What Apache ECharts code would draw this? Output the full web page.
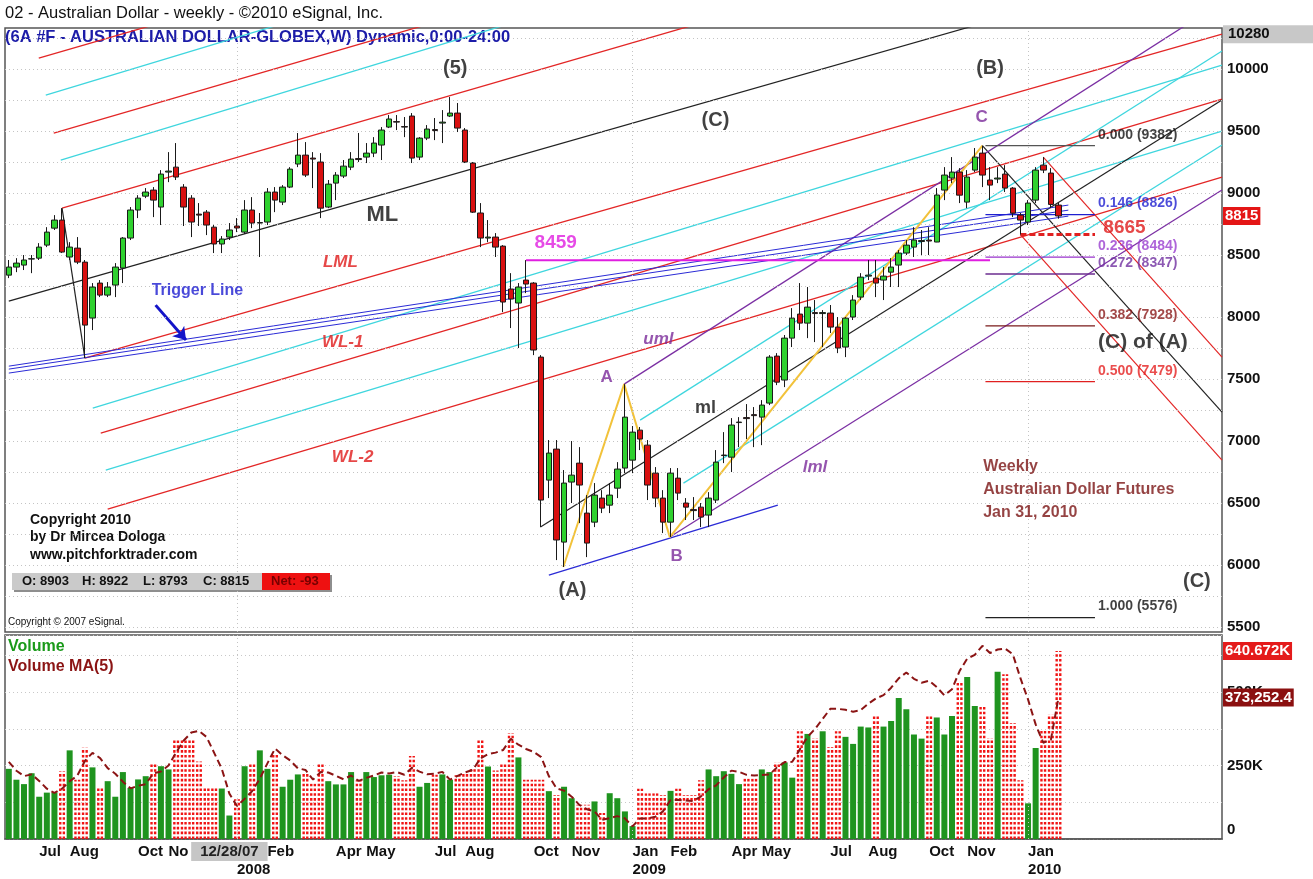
<!DOCTYPE html>
<html>
<head>
<meta charset="utf-8">
<title>02 - Australian Dollar - weekly</title>
<script src="https://cdn.jsdelivr.net/npm/echarts@6/dist/echarts.min.js"></script>
<style>
  html, body { margin: 0; padding: 0; background: #fff; }
  #chart { width: 1313px; height: 879px; }
</style>
</head>
<body>
<div id="chart"></div>
<script>
// weekly bars, dated by the Friday, first bar 2007-06-08
const firstFriday = Date.UTC(2007, 5, 8)
const slotCount = 160

// [open, high, low, close]
const candles = [
  [8338, 8460, 8314, 8403], [8403, 8475, 8362, 8435], [8419, 8500, 8379, 8460], [8468, 8500, 8354, 8470],
  [8475, 8596, 8460, 8564], [8580, 8725, 8564, 8685], [8717, 8822, 8702, 8782], [8782, 8878, 8516, 8524],
  [8484, 8604, 8460, 8564], [8556, 8645, 8427, 8443], [8443, 8460, 7669, 7935], [7992, 8274, 7895, 8242],
  [8274, 8298, 8161, 8177], [8177, 8282, 8161, 8242], [8258, 8435, 8161, 8403], [8395, 8645, 8274, 8637],
  [8637, 8887, 8621, 8863], [8863, 8983, 8798, 8959], [8975, 9040, 8959, 9008], [9024, 9048, 8806, 8943],
  [8887, 9185, 8742, 9153], [9169, 9330, 9088, 9177], [9209, 9403, 9105, 9129], [9048, 9072, 8734, 8887],
  [8959, 8983, 8645, 8766], [8830, 8919, 8734, 8822], [8846, 8863, 8661, 8742], [8725, 8742, 8516, 8589],
  [8589, 8653, 8516, 8629], [8645, 8758, 8621, 8702], [8734, 8798, 8685, 8718], [8685, 8943, 8670, 8863],
  [8863, 8967, 8717, 8758], [8758, 8839, 8484, 8762], [8766, 9040, 8742, 9008], [9008, 9048, 8846, 8943],
  [8927, 9064, 8903, 9048], [9048, 9209, 9040, 9193], [9234, 9484, 9209, 9306], [9306, 9411, 9129, 9145],
  [9282, 9330, 9040, 9274], [9250, 9322, 8798, 8878], [8887, 9105, 8878, 9072], [9080, 9169, 8943, 9145],
  [9137, 9266, 9121, 9217], [9209, 9330, 9185, 9274], [9278, 9484, 9250, 9270], [9290, 9403, 9242, 9322],
  [9322, 9451, 9290, 9403], [9387, 9532, 9266, 9508], [9532, 9629, 9524, 9597], [9576, 9629, 9508, 9572],
  [9536, 9613, 9451, 9532], [9621, 9645, 9242, 9282], [9290, 9451, 9266, 9443], [9443, 9548, 9427, 9516],
  [9512, 9605, 9427, 9504], [9564, 9669, 9403, 9572], [9621, 9774, 9613, 9645], [9645, 9726, 9492, 9524],
  [9508, 9524, 9242, 9250], [9242, 9250, 8839, 8846], [8839, 8919, 8564, 8637], [8637, 8782, 8604, 8645],
  [8645, 8677, 8484, 8564], [8572, 8580, 8040, 8121], [8226, 8354, 7911, 8145], [8113, 8274, 7750, 8242],
  [8298, 8459, 8193, 8266], [8274, 8282, 7693, 7734], [7677, 7693, 6306, 6524], [6685, 7008, 6540, 6903],
  [6935, 7008, 6040, 6202], [6185, 6766, 5984, 6661], [6669, 7000, 6500, 6725], [6822, 6951, 6338, 6645],
  [6419, 6564, 6064, 6177], [6346, 6661, 6306, 6564], [6540, 6604, 6419, 6459], [6483, 6661, 6419, 6564],
  [6620, 6830, 6540, 6774], [6782, 7459, 6741, 7193], [6846, 7121, 6741, 7072], [7088, 7113, 6927, 7016],
  [6967, 7008, 6524, 6645], [6741, 6790, 6467, 6540], [6540, 6604, 6258, 6346], [6346, 6782, 6226, 6741],
  [6701, 6782, 6524, 6580], [6500, 6540, 6363, 6467], [6447, 6548, 6363, 6439], [6467, 6500, 6306, 6387],
  [6403, 6588, 6306, 6540], [6524, 6927, 6500, 6830], [6883, 7072, 6822, 6887], [6870, 7185, 6750, 7129],
  [7149, 7193, 6951, 7153], [7189, 7298, 7016, 7181], [7213, 7274, 6951, 7205], [7193, 7330, 6967, 7290],
  [7306, 7693, 7290, 7677], [7685, 7709, 7451, 7475], [7492, 7855, 7435, 7830], [7830, 8072, 7758, 7991],
  [8024, 8274, 7895, 7951], [7951, 8242, 7830, 8080], [8036, 8137, 7798, 8028], [8028, 8056, 7758, 8036],
  [8032, 8097, 7871, 7919], [7919, 8000, 7709, 7750], [7758, 8000, 7677, 7991], [8000, 8177, 7976, 8137],
  [8161, 8354, 8137, 8322], [8330, 8460, 8298, 8338], [8314, 8460, 8161, 8274], [8298, 8403, 8137, 8330],
  [8362, 8475, 8242, 8403], [8419, 8540, 8242, 8516], [8516, 8621, 8500, 8580], [8564, 8725, 8484, 8621],
  [8609, 8702, 8500, 8617], [8621, 8725, 8500, 8613], [8605, 9040, 8604, 8984], [9024, 9209, 8943, 9145],
  [9121, 9290, 9080, 9169], [9169, 9201, 8919, 8983], [8927, 9185, 8878, 9129], [9185, 9363, 9169, 9290],
  [9322, 9382, 9048, 9145], [9105, 9209, 8943, 9064], [9113, 9209, 9080, 9121], [9153, 9225, 9008, 9040],
  [9040, 9048, 8806, 8838], [8822, 8839, 8665, 8782], [8766, 8943, 8742, 8919], [8943, 9209, 8919, 9185],
  [9225, 9290, 9161, 9185], [9161, 9201, 8880, 8908], [8903, 8922, 8793, 8815]
]

// weekly volume, thousands of contracts
const volumeK = [
  239, 202, 187, 224, 144, 158, 158, 231, 302, 202,
  311, 244, 176, 197, 144, 228, 174, 203, 214, 256,
  248, 237, 339, 339, 339, 264, 174, 174, 172, 80,
  135, 248, 256, 302, 239, 289, 178, 202, 220, 222,
  189, 256, 197, 186, 186, 228, 200, 228, 211, 217,
  219, 214, 200, 283, 178, 191, 219, 220, 202, 217,
  228, 245, 339, 247, 233, 256, 361, 278, 202, 202,
  202, 163, 150, 178, 139, 117, 117, 128, 89, 156,
  139, 94, 44, 172, 156, 156, 150, 164, 172, 150,
  150, 200, 237, 214, 231, 222, 187, 206, 206, 237,
  228, 261, 261, 209, 367, 358, 344, 367, 313, 367,
  348, 324, 383, 380, 422, 383, 402, 480, 442, 356,
  342, 422, 414, 356, 419, 533, 552, 453, 450, 344,
  570, 561, 394, 200, 121.59, 310, 370, 424, 640.672
]

// bottom axis labels (bar index -> text)
const tickIdx = [4, 8, 17, 21, 30, 34, 43, 47, 56, 60, 69, 74, 82, 87, 95, 99, 108, 113, 121, 126, 134]
const tickText = ['Jul', 'Aug', 'Oct', 'No', ' \n2008', 'Feb', 'Apr', 'May', 'Jul', 'Aug', 'Oct', 'Nov',
  'Jan\n2009', 'Feb', 'Apr', 'May', 'Jul', 'Aug', 'Oct', 'Nov', 'Jan\n2010']
const cursorIdx = 29
const cursorText = '12/28/07'
const yearLineIdx = [30, 82, 134]

const priceGrid = [5500, 5750, 6000, 6250, 6500, 6750, 7000, 7250, 7500, 7750, 8000,
  8250, 8500, 8750, 9000, 9250, 9500, 9750, 10000, 10250]
const topBadge = 10280

// fibonacci retracement levels
const fibPrices = [9382, 8826, 8484, 8347, 7928, 7479, 5576]
const fibTexts = ['0.000 (9382)', '0.146 (8826)', '0.236 (8484)', '0.272 (8347)', '0.382 (7928)', '0.500 (7479)', '1.000 (5576)']
const fibSpan = [128.4, 142.8]

// drawn lines: [bar1, price1, bar2, price2]
const redForkLines = [
  [3.94, 10088, 38.4, 10701], [5.91, 9483, 77.8, 10766], [7, 8879, 117.2, 10838],
  [10, 7669, 159.5, 10282], [12.09, 7064, 159.5, 9758], [13.0, 6451, 159.5, 9129]
]
const cyanForkLines = [
  [4.86, 9790, 38.4, 10411], [6.83, 9266, 77.8, 10588], [11.04, 7265, 159.5, 10032],
  [12.75, 6765, 159.5, 9499], [83.0, 7169, 159.5, 10145], [88.7, 6661, 159.5, 9387]
]
const blackLines = [
  [0, 8128, 130.4, 10411], [7, 8879, 10, 7669], [69.9, 6306, 159.5, 9750], [128.0, 9382, 159.5, 7233]
]
const purpleLines = [[80.9, 7459, 159.5, 10540], [86.9, 6226, 159.5, 9024]]
const triggerLines = [[0, 7604, 139.3, 8903], [0, 7580, 139.3, 8862], [0, 7548, 139.3, 8814]]
const triggerArrow = [19.3, 8096, 23.3, 7814]
const redFanLines = [[136.0, 9290, 159.5, 7677], [133.0, 8665, 159.5, 6846]]
const baseLine = [71.0, 5919, 101.1, 6483]
const zigzag = [[72.9, 5984], [80.9, 7459], [86.9, 6226], [128.0, 9382]]
const level8459 = [68, 129, 8459]
const level8665 = [133, 142.8, 8665]

// chart notes: [bar, price, text, kind]
const notes = [
  [58.7, 10008, '(5)', 'wave'], [92.9, 9588, '(C)', 'wave'], [129.0, 10008, '(B)', 'wave'],
  [127.9, 9612, 'C', 'pivot'], [49.1, 8822, 'ML', 'ml'], [43.6, 8443, 'LML', 'redTag'],
  [43.9, 7798, 'WL-1', 'redTag'], [45.2, 6870, 'WL-2', 'redTag'], [24.8, 8217, 'Trigger Line', 'blueTag'],
  [71.9, 8596, '8459', 'magentaTag'], [78.6, 7516, 'A', 'pivot'], [85.4, 7822, 'uml', 'purpleTag'],
  [91.6, 7266, 'ml', 'blackTag'], [106.0, 6790, 'lml', 'purpleTag'], [87.8, 6072, 'B', 'pivot'],
  [74.1, 5798, '(A)', 'wave'], [149.1, 7798, '(C) of (A)', 'waveBig'], [156.2, 5870, '(C)', 'wave']
]
const leftNotes = [
  [128.1, 6612, 'Weekly\nAustralian Dollar Futures\nJan 31, 2010', 'comment'],
  [143.9, 8717, '8665', 'redLevel']
]

const FONT = '"Liberation Sans", Arial, Helvetica, sans-serif'
const noteStyles = {
  wave: { fontSize: 20, fontWeight: 'bold', color: '#111' },
  waveBig: { fontSize: 21, fontWeight: 'bold', color: '#111' },
  pivot: { fontSize: 17, fontWeight: 'bold', color: '#7a2a9a' },
  ml: { fontSize: 22, fontWeight: 'bold', color: '#111' },
  redTag: { fontSize: 17, fontWeight: 'bold', fontStyle: 'italic', color: '#e01a1a' },
  blueTag: { fontSize: 16, fontWeight: 'bold', color: '#1c1cd0' },
  magentaTag: { fontSize: 19, fontWeight: 'bold', color: '#e01ee0' },
  purpleTag: { fontSize: 17, fontWeight: 'bold', fontStyle: 'italic', color: '#7a2a9a' },
  blackTag: { fontSize: 18, fontWeight: 'bold', color: '#111' },
  comment: { fontSize: 16, fontWeight: 'bold', color: '#7a1414', lineHeight: 23 },
  redLevel: { fontSize: 19, fontWeight: 'bold', color: '#e01a1a' }
}
const fibColors = ['#555555', '#1f1fd0', '#9933cc', '#6b2d8f', '#7a1a1a', '#e02020', '#222222']
const fibTextColors = ['#111111', '#1f1fd0', '#9a3fd0', '#7030a0', '#8b1a1a', '#e52020', '#111111']
const HIDDEN = 'rgba(0,0,0,0)'

const weeks = []
for (let i = 0; i < slotCount; i++) {
  weeks.push(new Date(firstFriday + i * 7 * 86400000).toISOString().slice(0, 10))
}

const isUp = candles.map(c => c[3] >= c[0])
const volUp = volumeK.map((v, i) => isUp[i] ? v : null)
const volDown = volumeK.map((v, i) => isUp[i] ? null : v)
// 5 week moving average of volume
const volMA = volumeK.map((v, i) => {
  const from = Math.max(0, i - 4)
  const part = volumeK.slice(from, i + 1)
  return part.reduce((a, b) => a + b, 0) / part.length
})

const last = candles[candles.length - 1]
const prevClose = candles[candles.length - 2][3]
const lastVol = volumeK[volumeK.length - 1]
const lastMA = volMA[volMA.length - 1]

function seg (s, color, width, type, z) {
  return {
    type: 'line', xAxisIndex: 2, yAxisIndex: 0,
    data: [[s[0], s[1]], [s[2], s[3]]],
    symbol: 'none', silent: true, animation: false, z: z || 3,
    lineStyle: { color: color, width: width || 1.2, type: type || 'solid' }
  }
}

function badge (value, text, bg, fg, pad) {
  return {
    yAxis: value,
    lineStyle: { color: HIDDEN, width: 0 },
    label: {
      show: true, position: 'end', distance: 1, formatter: text, color: fg, backgroundColor: bg,
      fontWeight: 'bold', fontSize: 15, padding: pad || [2, 2, 1, 2], fontFamily: FONT
    }
  }
}

const lineSeries = []
redForkLines.forEach(s => lineSeries.push(seg(s, '#e32626', 1.3)))
cyanForkLines.forEach(s => lineSeries.push(seg(s, '#3fd6de', 1.3)))
blackLines.forEach(s => lineSeries.push(seg(s, '#222', 1.2)))
purpleLines.forEach(s => lineSeries.push(seg(s, '#7b2fa3', 1.3)))
triggerLines.forEach(s => lineSeries.push(seg(s, '#2b2bd6', 1)))
redFanLines.forEach(s => lineSeries.push(seg(s, '#e32626', 1.2)))
lineSeries.push(seg(baseLine, '#2b2bd6', 1.3))
lineSeries.push(seg([level8459[0], level8459[2], level8459[1], level8459[2]], '#e01ee0', 2))
lineSeries.push(seg([level8665[0], level8665[2], level8665[1], level8665[2]], '#e02020', 3, [6, 3], 4))
fibPrices.forEach((p, i) => lineSeries.push(seg([fibSpan[0], p, fibSpan[1], p], fibColors[i], 1.3)))
lineSeries.push({
  type: 'line', xAxisIndex: 2, yAxisIndex: 0, data: zigzag,
  symbol: 'none', silent: true, animation: false, z: 3,
  lineStyle: { color: '#f2c23a', width: 2 }
})

const chart = echarts.init(document.getElementById('chart'))

chart.setOption({
  animation: false,
  backgroundColor: '#fff',
  textStyle: { fontFamily: FONT },
  grid: [
    { left: 5, right: 91, top: 28, height: 604, show: true, borderColor: '#555', borderWidth: 1.5 },
    { left: 5, right: 91, top: 635, height: 205, show: true, borderColor: '#555', borderWidth: 1.5 }
  ],
  xAxis: [
    { type: 'category', gridIndex: 0, data: weeks, position: 'bottom', show: false },
    {
      type: 'category', gridIndex: 1, data: weeks, position: 'bottom',
      axisLine: { lineStyle: { color: '#555', width: 1.5 } },
      axisTick: { show: false },
      splitLine: { show: false },
      axisLabel: {
        interval: (i) => tickIdx.indexOf(i) !== -1,
        formatter: (v, i) => {
          const k = tickIdx.indexOf(i)
          return k === -1 ? '' : tickText[k]
        },
        align: 'left', margin: 4, color: '#111', fontWeight: 'bold', fontSize: 15, lineHeight: 18, fontFamily: FONT
      }
    },
    { type: 'value', gridIndex: 0, min: -0.5, max: slotCount - 0.5, position: 'bottom', show: false },
    {
      type: 'category', gridIndex: 1, data: weeks, position: 'bottom',
      axisLine: { show: false }, axisTick: { show: false }, splitLine: { show: false },
      axisLabel: {
        interval: (i) => i === cursorIdx,
        formatter: () => cursorText,
        align: 'center', margin: 3, color: '#222', fontWeight: 'bold', fontSize: 15,
        backgroundColor: '#c6c6c6', padding: [2, 9, 2, 9], fontFamily: FONT
      }
    }
  ],
  yAxis: [
    {
      type: 'value', gridIndex: 0, position: 'right', min: 5460, max: 10331, splitNumber: 10,
      axisLine: { show: false }, axisTick: { show: false }, splitLine: { show: false },
      axisLabel: {
        formatter: (v) => (v % 500 === 0 ? String(v) : ''),
        color: '#111', fontWeight: 'bold', fontSize: 15, margin: 5, fontFamily: FONT
      }
    },
    {
      type: 'value', gridIndex: 1, position: 'right', min: 0, max: 695, interval: 125,
      axisLine: { show: false }, axisTick: { show: false },
      splitLine: { show: true, lineStyle: { color: '#c8c8c8', type: [1, 3] } },
      axisLabel: {
        // the zero label sits just above the base line
        formatter: (v) => (v === 0 ? '0\n ' : (v % 250 === 0 ? v + 'K' : '')),
        lineHeight: 18, color: '#111', fontWeight: 'bold', fontSize: 15, margin: 5, fontFamily: FONT
      }
    },
    {
      type: 'value', gridIndex: 1, position: 'right', show: false,
      min: (e) => e.min - (e.max - e.min) * 0.07,
      max: (e) => e.max + (e.max - e.min) * 0.06
    }
  ],
  graphic: [
    { type: 'text', left: 5, top: 5, style: { text: '02 - Australian Dollar - weekly - \u00a92010 eSignal, Inc.', font: '16.5px ' + FONT, fill: '#111' } },
    { type: 'text', left: 5, top: 29, style: { text: '(6A #F - AUSTRALIAN DOLLAR-GLOBEX,W) Dynamic,0:00-24:00', font: 'bold 16.5px ' + FONT, fill: '#1c1ca8' } },
    { type: 'text', left: 30, top: 511, style: { text: 'Copyright 2010\nby Dr Mircea Dologa\nwww.pitchforktrader.com', font: 'bold 14px ' + FONT, fill: '#111', lineHeight: 17.5 } },
    { type: 'rect', left: 14, top: 575, shape: { width: 318, height: 17 }, style: { fill: '#8e8e8e' } },
    { type: 'rect', left: 12, top: 573, shape: { width: 318, height: 17 }, style: { fill: '#cacaca' } },
    { type: 'rect', left: 262, top: 573, shape: { width: 68, height: 17 }, style: { fill: '#ee1111' } },
    { type: 'text', left: 22, top: 575, style: { text: 'O: ' + last[0], font: 'bold 13px ' + FONT, fill: '#111' } },
    { type: 'text', left: 82, top: 575, style: { text: 'H: ' + last[1], font: 'bold 13px ' + FONT, fill: '#111' } },
    { type: 'text', left: 143, top: 575, style: { text: 'L: ' + last[2], font: 'bold 13px ' + FONT, fill: '#111' } },
    { type: 'text', left: 203, top: 575, style: { text: 'C: ' + last[3], font: 'bold 13px ' + FONT, fill: '#111' } },
    { type: 'text', left: 271, top: 575, style: { text: 'Net: ' + (last[3] - prevClose), font: 'bold 13px ' + FONT, fill: '#700' } },
    { type: 'text', left: 8, top: 617, style: { text: 'Copyright \u00a9 2007 eSignal.', font: '10px ' + FONT, fill: '#111' } },
    { type: 'text', left: 8, top: 639, style: { text: 'Volume', font: 'bold 16px ' + FONT, fill: '#1a9a1a' } },
    { type: 'text', left: 8, top: 659, style: { text: 'Volume MA(5)', font: 'bold 16px ' + FONT, fill: '#8b1414' } }
  ],
  series: [
    ...lineSeries,
    {
      type: 'lines', coordinateSystem: 'cartesian2d', xAxisIndex: 2, yAxisIndex: 0,
      silent: true, z: 4, symbol: ['none', 'arrow'], symbolSize: 12,
      lineStyle: { color: '#1414c8', width: 3, opacity: 1 },
      data: [{ coords: [[triggerArrow[0], triggerArrow[1]], [triggerArrow[2], triggerArrow[3]]] }]
    },
    {
      name: 'AUD', type: 'candlestick', xAxisIndex: 0, yAxisIndex: 0, barWidth: 6, z: 5,
      data: candles.map(c => [c[0], c[3], c[2], c[1]]),
      itemStyle: { color: '#2fd12f', color0: '#d81010', borderColor: '#1a1a1a', borderColor0: '#1a1a1a', borderWidth: 1 },
      markLine: {
        silent: true, symbol: 'none', animation: false,
        label: { show: false },
        lineStyle: { color: '#c4c4c4', type: [1, 3], width: 1 },
        data: priceGrid.map(v => ({ yAxis: v }))
          .concat(yearLineIdx.map(i => ({ xAxis: weeks[i] })))
          .concat([
            badge(last[3], String(last[3]), '#e41515', '#fff'),
            badge(topBadge, String(topBadge), '#c8c8c8', '#111', [2, 46, 1, 5])
          ])
      }
    },
    {
      type: 'scatter', xAxisIndex: 2, yAxisIndex: 0, symbolSize: 0, silent: true, z: 8,
      data: notes.map(n => ({ value: [n[0], n[1]], label: Object.assign({ show: true, position: 'inside', formatter: n[2], fontFamily: FONT }, noteStyles[n[3]]) }))
        .concat(leftNotes.map(n => ({ value: [n[0], n[1]], label: Object.assign({ show: true, position: 'right', distance: 0, align: 'left', formatter: n[2], fontFamily: FONT }, noteStyles[n[3]]) })))
        .concat(fibPrices.map((p, i) => ({ value: [fibSpan[1] + 0.4, p], label: { show: true, position: 'right', distance: 0, offset: [0, -11], formatter: fibTexts[i], color: fibTextColors[i], fontWeight: 'bold', fontSize: 14, fontFamily: FONT } })))
    },
    {
      name: 'Volume up', type: 'bar', xAxisIndex: 1, yAxisIndex: 1, barWidth: 6, barGap: '-100%',
      data: volUp, itemStyle: { color: '#1f941f' },
      markLine: {
        silent: true, symbol: 'none', animation: false, label: { show: false },
        lineStyle: { color: '#c4c4c4', type: [1, 3], width: 1 },
        data: yearLineIdx.map(i => ({ xAxis: weeks[i] })).concat([
          badge(lastVol, lastVol.toFixed(3) + 'K', '#e41b1b', '#fff')
        ])
      }
    },
    {
      name: 'Volume down', type: 'pictorialBar', xAxisIndex: 1, yAxisIndex: 1,
      data: volDown,
      symbol: 'path://M0 0h2.4v2.4H0zM3.6 0h2.4v2.4H3.6z',
      symbolSize: [6, 2.6], symbolRepeat: true, symbolMargin: 1.1, symbolClip: true,
      symbolPosition: 'start',
      itemStyle: { color: '#f01414' }
    },
    {
      name: 'Volume MA(5)', type: 'line', xAxisIndex: 1, yAxisIndex: 2, data: volMA,
      symbol: 'none', silent: true, z: 6,
      lineStyle: { color: '#8b1414', width: 2, type: [7, 4] },
      markLine: {
        silent: true, symbol: 'none', animation: false,
        data: [badge(lastMA, (lastMA * 1000).toLocaleString('en-US', { minimumFractionDigits: 1, maximumFractionDigits: 1 }), '#8b1010', '#fff')]
      }
    }
  ]
})
</script>
</body>
</html>
